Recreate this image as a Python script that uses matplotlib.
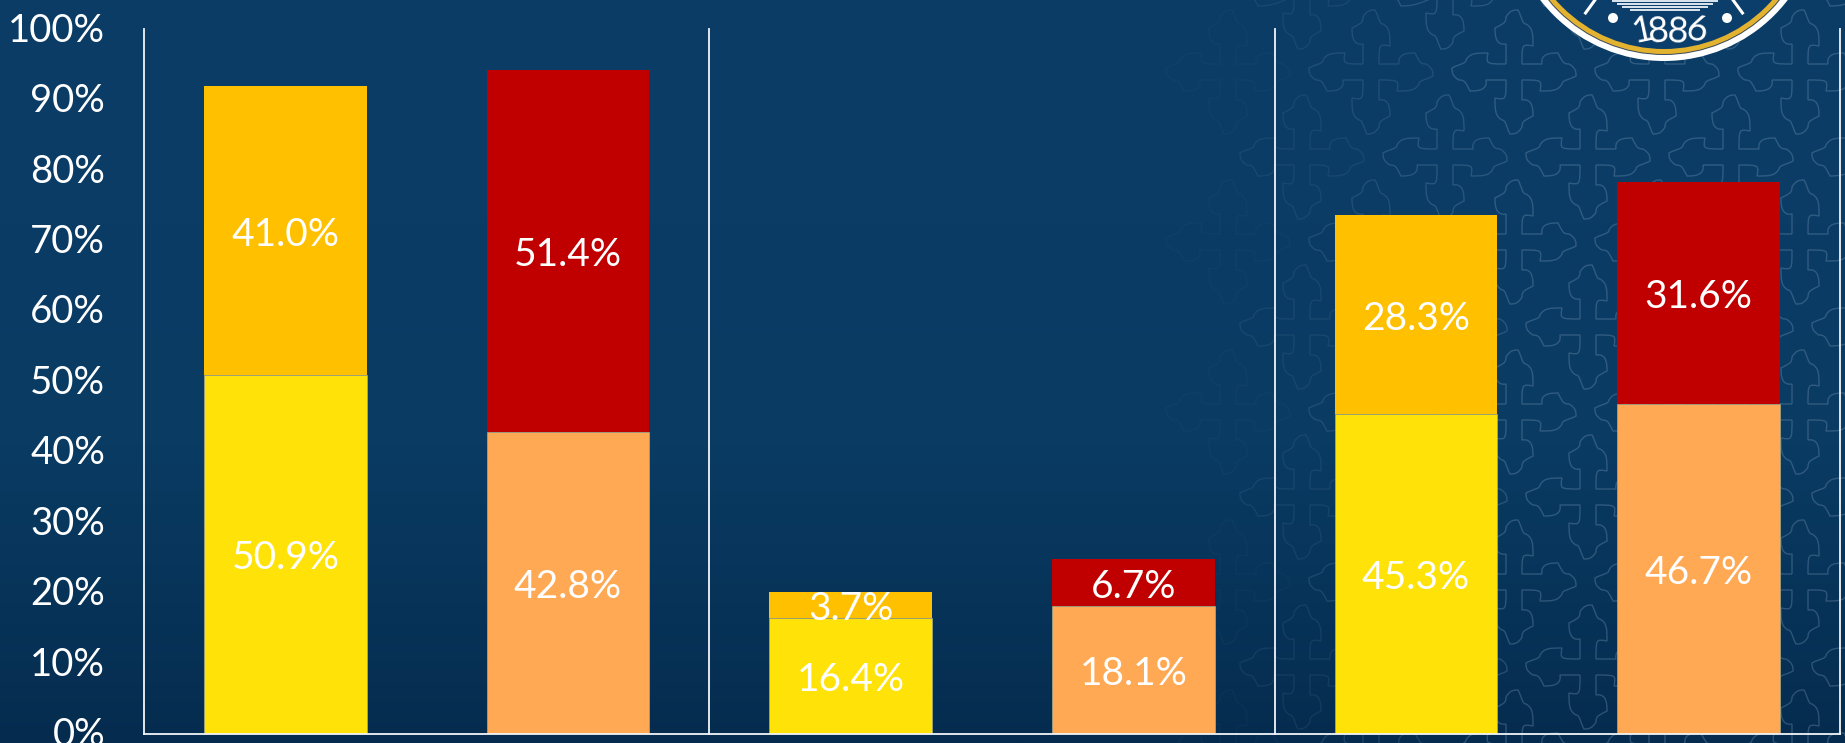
import matplotlib
matplotlib.use('Agg')
import matplotlib.pyplot as plt
import numpy as np
from matplotlib.colors import LinearSegmentedColormap
from matplotlib.patches import Circle, PathPatch
from matplotlib.path import Path
from matplotlib.ticker import PercentFormatter
from matplotlib.transforms import ScaledTranslation

plt.rcParams['font.family'] = ['Lato', 'DejaVu Sans']

# stacked bars, in pairs per group
bottom_values = [50.9, 42.8, 16.4, 18.1, 45.3, 46.7]
top_values = [41.0, 51.4, 3.7, 6.7, 28.3, 31.6]
bottom_colors = ['#FFE208', '#FFA955', '#FFE208', '#FFA955', '#FFE208', '#FFA955']
top_colors = ['#FFC000', '#C00000', '#FFC000', '#C00000', '#FFC000', '#C00000']
y_ticks = [0, 10, 20, 30, 40, 50, 60, 70, 80, 90, 100]
separators = [2, 4, 6]

W, H = 1845, 743
fig = plt.figure(figsize=(W / 100, H / 100), dpi=100)

# background in pixel coords
bg = fig.add_axes([0, 0, 1, 1])
bg.set_xlim(0, W)
bg.set_ylim(H, 0)
bg.set_axis_off()
cmap = LinearSegmentedColormap.from_list(
    'bg', [(0, '#0B3D67'), (0.6, '#0A3B63'), (1, '#052C4F')])
bg.imshow(np.linspace(0, 1, 256).reshape(-1, 1), cmap=cmap, aspect='auto',
          extent=(0, W, H, 0), zorder=0)


def cross_path(cx, cy):
    # one arm pointing up, rotated four times
    arm = [(-8, -28), (-19, -26), (-19, -38), (-19, -44), (-12, -48), (-8, -48),
           (-8, -55), (-4, -62), (0, -62), (4, -62), (8, -55), (8, -48),
           (12, -48), (19, -44), (19, -38), (19, -26), (8, -28), (8, -28)]
    verts, codes = [], []
    for k in range(4):
        c, s = np.cos(k * np.pi / 2), np.sin(k * np.pi / 2)
        rot = lambda p: (cx + c * p[0] - s * p[1], cy + s * p[0] + c * p[1])
        verts.append(rot((-8, -8)))
        codes.append(Path.MOVETO if k == 0 else Path.LINETO)
        verts.append(rot((-8, -28)))
        codes.append(Path.LINETO)
        verts.extend(rot(p) for p in arm[1:])
        codes.extend([Path.CURVE4] * (len(arm) - 1))
    verts.append(verts[0])
    codes.append(Path.CLOSEPOLY)
    return Path(verts, codes)


# faint cross pattern, fading out to the left
for row in range(-1, 10):
    y0 = 72 + row * 85
    for col in range(-12, 6):
        x0 = 1514 + col * 143 + (row % 2) * 74
        fade = np.clip((x0 - 1180) / 330, 0, 1)
        if fade <= 0 or x0 > W + 70:
            continue
        bg.add_patch(PathPatch(cross_path(x0, y0), facecolor='none', edgecolor='#7F9DBB',
                               lw=1.0, alpha=0.33 * fade, zorder=1))

# seal, cut by the top edge
sx, sy = 1664, -95
for r, col in [(156, '#FFFFFF'), (150, '#3A4A5A'), (149, '#E3B22F'), (144, '#0C3E6B')]:
    bg.add_patch(Circle((sx, sy), r, facecolor=col, edgecolor='none', zorder=2))
for ang in [-36, 36]:
    a = np.radians(ang)
    bg.plot([sx + 116 * np.sin(a), sx + 135 * np.sin(a)], [sy + 116 * np.cos(a), sy + 135 * np.cos(a)],
            color='white', lw=2.2, zorder=3, solid_capstyle='butt')
for cx in [1613, 1727]:
    bg.add_patch(Circle((cx, 18), 5, facecolor='white', edgecolor='none', zorder=3))
for yy, half in [(1, 52), (4, 47), (7, 42), (10, 34)]:
    bg.plot([1665 - half, 1665 + half], [yy, yy], color='#DDE6EE', lw=1.4, zorder=3)
for ch, xc, yc, rot in [('1', 1642, 31, 12), ('8', 1658, 32, 5), ('8', 1677, 32, -3), ('6', 1697, 30, -10)]:
    bg.text(xc, yc, ch, color='white', fontsize=26, ha='center', va='center',
            rotation=rot, zorder=3)

# chart
ax = fig.add_axes([144 / W, (H - 733.5) / H, (1840 - 144) / W, (733.5 - 29) / H])
ax.patch.set_alpha(0)
x = np.arange(len(bottom_values)) + 0.5
bars1 = ax.bar(x, bottom_values, width=0.576, color=bottom_colors, edgecolor='#A9A98A', linewidth=0.5)
bars2 = ax.bar(x, top_values, width=0.576, bottom=bottom_values, color=top_colors, linewidth=0)
for bars in [bars1, bars2]:
    for t in ax.bar_label(bars, fmt='%.1f%%', label_type='center', color='white', fontsize=28):
        t.xyann = (0, -3)

ax.set_xlim(0, 6)
ax.set_ylim(0, 100)
ax.set_xticks([])
ax.set_yticks(y_ticks)
ax.yaxis.set_major_formatter(PercentFormatter(decimals=0))
ax.tick_params(axis='y', length=0, pad=28, labelsize=27.5, labelcolor='white')
offset = ScaledTranslation(0, 1.3 / 72, fig.dpi_scale_trans)
for lab in ax.get_yticklabels():
    lab.set_transform(lab.get_transform() + offset)
for name in ['top', 'right']:
    ax.spines[name].set_visible(False)
for name in ['left', 'bottom']:
    ax.spines[name].set_color('#F2F5F8')
    ax.spines[name].set_linewidth(1.3)
for sep in separators:
    ax.axvline(sep, color='#F2F5F8', lw=1.3, clip_on=False)

fig.savefig('out.png', dpi=100)
